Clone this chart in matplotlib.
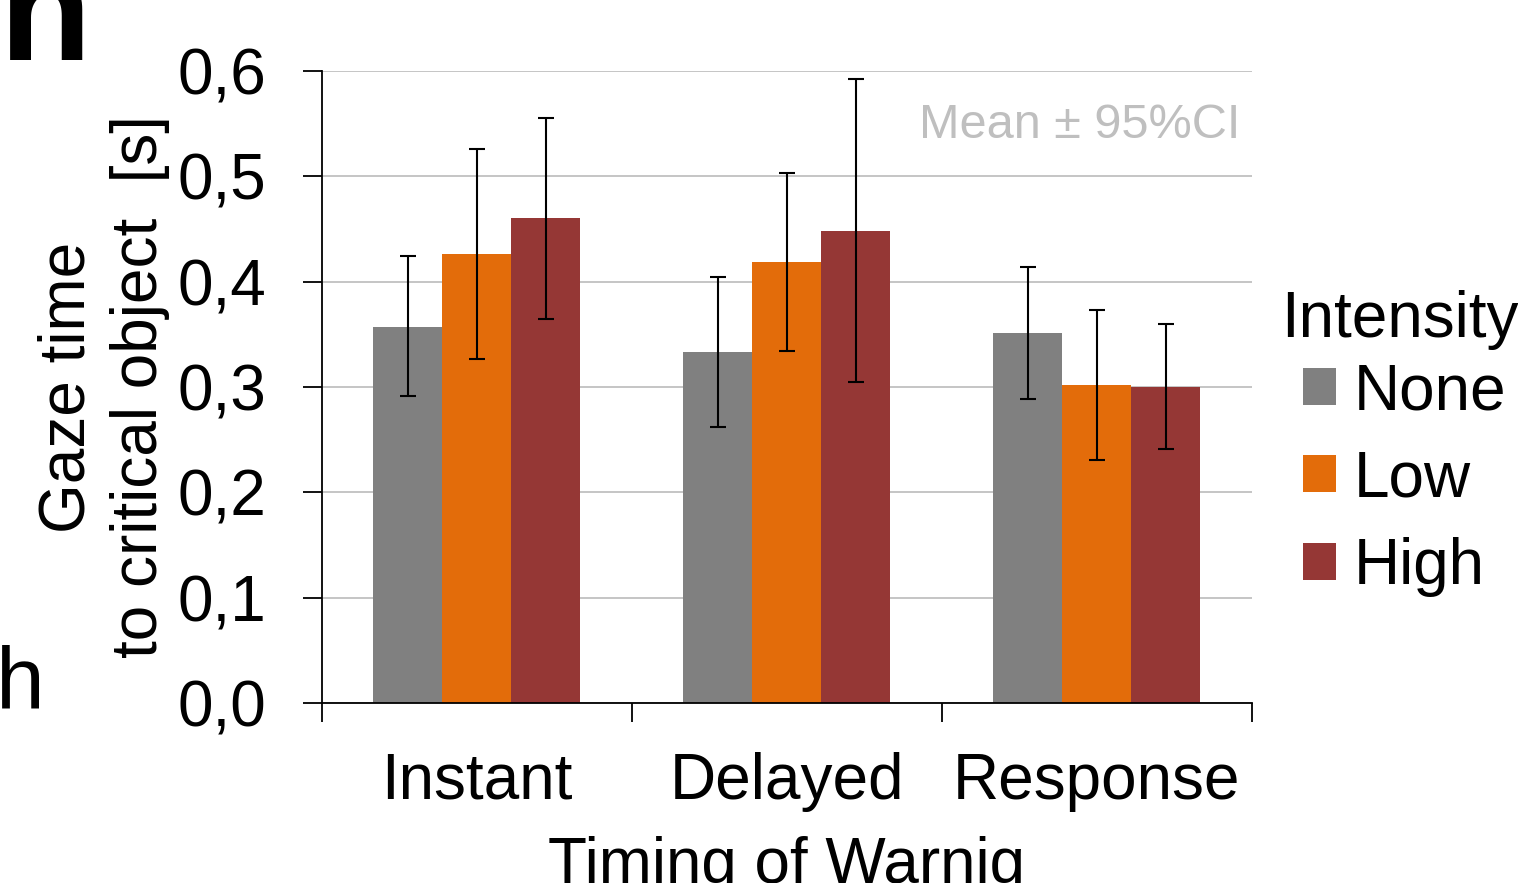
import numpy as np
import matplotlib.pyplot as plt
from matplotlib.ticker import FixedLocator, FuncFormatter

plt.rcParams["font.family"] = ["Liberation Sans", "DejaVu Sans"]

timings = ["Instant", "Delayed", "Response"]
intensities = ["None", "Low", "High"]
colores = ["#808080", "#E36C0A", "#953735"]

# medias y limites del intervalo de confianza (95%)
mean_none = [0.357, 0.333, 0.351]
mean_low = [0.426, 0.419, 0.302]
mean_high = [0.460, 0.448, 0.300]
lo_none = [0.291, 0.262, 0.289]
lo_low = [0.327, 0.334, 0.231]
lo_high = [0.365, 0.305, 0.241]
hi_none = [0.424, 0.404, 0.414]
hi_low = [0.526, 0.503, 0.373]
hi_high = [0.555, 0.592, 0.360]

medias = [mean_none, mean_low, mean_high]
lows = [lo_none, lo_low, lo_high]
highs = [hi_none, hi_low, hi_high]

fig = plt.figure(figsize=(15.18, 8.83), dpi=100)
ax = fig.add_axes([0.2121, 0.2039, 0.6126, 0.7157])

x = np.arange(len(timings))
ancho = 0.2226
for i, nombre in enumerate(intensities):
    m = np.array(medias[i])
    err = [m - np.array(lows[i]), np.array(highs[i]) - m]
    ax.bar(x + (i - 1) * ancho, m, width=ancho, color=colores[i], label=nombre, zorder=2)
    ax.errorbar(x + (i - 1) * ancho, m, yerr=err, fmt="none", ecolor="black",
                elinewidth=1.5, capsize=5.5, capthick=1.5, zorder=3)

ax.set_xlim(-0.5, 2.5)
ax.set_ylim(0, 0.6)
ax.set_yticks(np.arange(0, 0.61, 0.1))
ax.yaxis.set_major_formatter(FuncFormatter(lambda v, p: f"{v:.1f}".replace(".", ",")))
ax.yaxis.grid(True, color="#C0C0C0", linewidth=1.3, zorder=0)
ax.set_axisbelow(True)

ax.set_xticks(x)
ax.set_xticklabels(timings)
ax.xaxis.set_minor_locator(FixedLocator([-0.5, 0.5, 1.5, 2.5]))
ax.tick_params(axis="x", which="major", length=0, pad=35, labelsize=46)
ax.tick_params(axis="x", which="minor", length=14, width=1.3, direction="out")
ax.tick_params(axis="y", length=14, width=1.3, pad=26, labelsize=46)

for lado in ["top", "right"]:
    ax.spines[lado].set_visible(False)
ax.spines["left"].set_linewidth(1.3)
ax.spines["bottom"].set_linewidth(1.3)

ax.set_ylabel("Gaze time\nto critical object  [s]", fontsize=46, linespacing=1.28)
ax.yaxis.set_label_coords(-0.163, 0.5)
ax.set_xlabel("Timing of Warnig", fontsize=46)
ax.xaxis.set_label_coords(0.5, -0.21)

ax.text(0.988, 0.914, "Mean \u00b1 95%CI", transform=ax.transAxes, ha="right",
        va="center", fontsize=35, color="#BFBFBF")

# leyenda: titulo aparte para que los cuadros queden sangrados
fig.text(1281 / 1518, 1 - 337 / 883, "Intensity", fontsize=46, va="baseline")
ax.legend(loc="upper left", bbox_to_anchor=(1303 / 1518, 1 - 362 / 883),
          bbox_transform=fig.transFigure, frameon=False, fontsize=46,
          handlelength=0.52, handleheight=0.52, handletextpad=0.27,
          labelspacing=0.43, borderpad=0, borderaxespad=0)

# letras de paneles vecinos (recortadas)
fig.text(0.0, 1 - 60 / 883, "n", fontsize=108, fontweight="bold", va="baseline")
fig.text(-0.003, 1 - 708 / 883, "h", fontsize=63, va="baseline")

plt.savefig("out.png", dpi=100)
